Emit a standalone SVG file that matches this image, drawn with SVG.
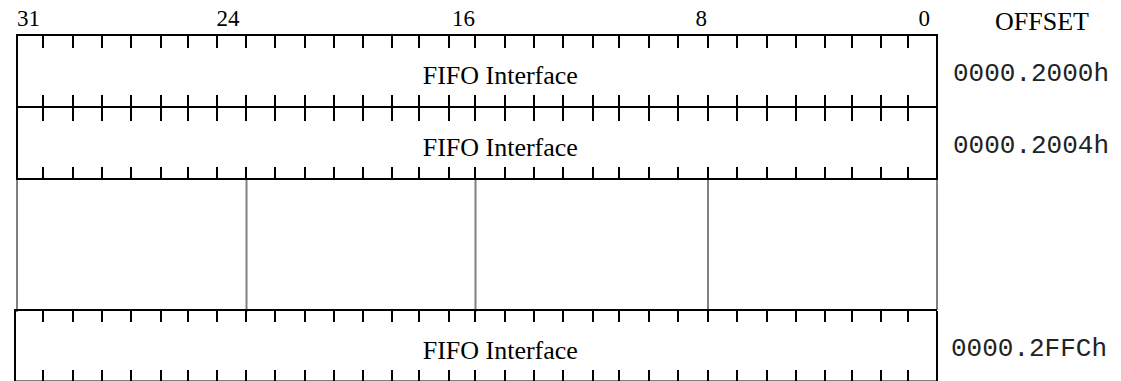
<svg xmlns="http://www.w3.org/2000/svg" width="1121" height="381" viewBox="0 0 1121 381">
<style>
.ln{stroke:#000;stroke-width:2;fill:none}
.gr{stroke:#808080;stroke-width:2;fill:none}
.bit{font-family:"Liberation Serif","Times New Roman",serif;font-size:23px;fill:#000}
.ttl{font-family:"Liberation Serif","Times New Roman",serif;font-size:26px;fill:#000}
.off{font-family:"Liberation Mono","Courier New",monospace;font-size:26px;fill:#222}
</style>
<rect width="1121" height="381" fill="#fff"/>
<g id="bit-labels">
<text class="bit" x="17" y="26">31</text>
<text class="bit" x="239.5" y="26" text-anchor="end">24</text>
<text class="bit" x="475" y="26" text-anchor="end">16</text>
<text class="bit" x="707" y="26" text-anchor="end">8</text>
<text class="bit" x="930" y="26" text-anchor="end">0</text>
<text class="ttl" x="995" y="30">OFFSET</text>
</g>
<g id="row-2000h">
<path class="ln" d="M17 35H937M17 107H937M17 34V108M937 34V108"/>
<path class="ln" d="M43 35V48M73 35V48M102 35V48M131 35V48M161 35V48M188 35V48M217 35V48M246 35V48M275 35V48M305 35V48M334 35V48M363 35V48M392 35V48M419 35V48M449 35V48M475 35V48M505 35V48M534 35V48M563 35V48M593 35V48M619 35V48M649 35V48M678 35V48M708 35V48M737 35V48M767 35V48M796 35V48M825 35V48M852 35V48M881 35V48M908 35V48"/>
<path class="ln" d="M43 95V121M73 95V121M102 95V121M131 95V121M161 95V121M188 95V121M217 95V121M246 95V121M275 95V121M305 95V121M334 95V121M363 95V121M392 95V121M419 95V121M449 95V121M475 95V121M505 95V121M534 95V121M563 95V121M593 95V121M619 95V121M649 95V121M678 95V121M708 95V121M737 95V121M767 95V121M796 95V121M825 95V121M852 95V121M881 95V121M908 95V121"/>
<text class="ttl" x="422.7" y="84">FIFO Interface</text>
<text class="off" x="953" y="81">0000.2000h</text>
</g>
<g id="row-2004h">
<path class="ln" d="M17 179H937M17 106V180M937 106V180"/>
<path class="ln" d="M43 167V179M73 167V179M102 167V179M131 167V179M161 167V179M188 167V179M217 167V179M246 167V179M275 167V179M305 167V179M334 167V179M363 167V179M392 167V179M419 167V179M449 167V179M475 167V179M505 167V179M534 167V179M563 167V179M593 167V179M619 167V179M649 167V179M678 167V179M708 167V179M737 167V179M767 167V179M796 167V179M825 167V179M852 167V179M881 167V179M908 167V179"/>
<text class="ttl" x="422.7" y="156">FIFO Interface</text>
<text class="off" x="953" y="153">0000.2004h</text>
</g>
<g id="gap">
<path class="gr" d="M17 180V312M246.5 180V312M475.5 180V312M708 180V312M937 180V310"/>
</g>
<g id="row-2FFCh">
<path class="ln" d="M14 310H937M14 381.5H937M15 309V382M937 311V382"/>
<path class="ln" d="M43 310V322M73 310V322M102 310V322M131 310V322M161 310V322M188 310V322M217 310V322M246 310V322M275 310V322M305 310V322M334 310V322M363 310V322M392 310V322M419 310V322M449 310V322M475 310V322M505 310V322M534 310V322M563 310V322M593 310V322M619 310V322M649 310V322M678 310V322M708 310V322M737 310V322M767 310V322M796 310V322M825 310V322M852 310V322M881 310V322M908 310V322"/>
<path class="ln" d="M43 370V382M73 370V382M102 370V382M131 370V382M161 370V382M188 370V382M217 370V382M246 370V382M275 370V382M305 370V382M334 370V382M363 370V382M392 370V382M419 370V382M449 370V382M475 370V382M505 370V382M534 370V382M563 370V382M593 370V382M619 370V382M649 370V382M678 370V382M708 370V382M737 370V382M767 370V382M796 370V382M825 370V382M852 370V382M881 370V382M908 370V382"/>
<text class="ttl" x="422.7" y="359">FIFO Interface</text>
<text class="off" x="951" y="356">0000.2FFCh</text>
</g>
</svg>
